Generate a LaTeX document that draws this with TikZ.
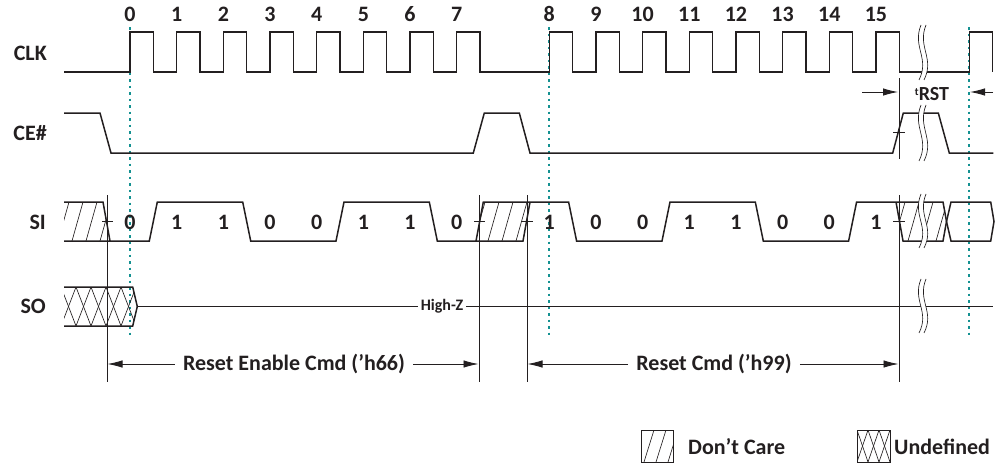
\documentclass[tikz,border=0pt]{standalone}
\usepackage{fontspec}
\setmainfont{Carlito}
\usetikzlibrary{arrows.meta}
\definecolor{teal2}{RGB}{20,145,145}
\definecolor{ink}{RGB}{35,31,32}
\newcommand\brkmark[3]{%
  \pgfmathsetmacro\bh{#3-#2}%
  \begin{scope}[shift={(#1,#2)}]
    \fill[white] (0,0) .. controls (-9,{0.4*\bh}) and (9,{0.6*\bh}) .. (-2,\bh) -- (3,\bh) .. controls (14,{0.6*\bh}) and (-4,{0.4*\bh}) .. (5,0) -- cycle;
    \draw[hat] (0,0) .. controls (-9,{0.4*\bh}) and (9,{0.6*\bh}) .. (-2,\bh);
    \draw[hat] (5,0) .. controls (-4,{0.4*\bh}) and (14,{0.6*\bh}) .. (3,\bh);
  \end{scope}}
\begin{document}
\begin{tikzpicture}[x=1pt,y=-1pt,
  sig/.style={line width=1.5pt, line join=miter, draw=ink},
  thinl/.style={line width=0.8pt, draw=ink},
  hat/.style={line width=0.65pt, draw=ink},
  dots/.style={draw=teal2, line width=1.5pt, dash pattern=on 2.5pt off 4pt},
  lbl/.style={font=\fontsize{22}{22}\selectfont\bfseries, text=ink, inner sep=0pt},
  small/.style={font=\fontsize{16}{16}\selectfont\bfseries, text=ink},
  arr/.style={line width=0.9pt, draw=ink, -{Latex[length=15pt,width=7.5pt]}}
]
\useasboundingbox (0,0) rectangle (1000,463);

% reference dotted lines
\coordinate (d0t) at (130,27);  \coordinate (d0b) at (130,335);
\coordinate (d8t) at (549,27); \coordinate (d8b) at (549,335);
\coordinate (drt) at (969,27); \coordinate (drb) at (969,335);
\draw[dots] (d0t) -- (d0b);
\draw[dots] (d8t) -- (d8b);
\draw[dots] (drt) -- (drb);

% signal names
\node[lbl, anchor=east] (clk) at (47,53) {CLK};
\node[lbl, anchor=east] (ce) at (47,133) {CE\#};
\node[lbl, anchor=east] (si) at (46,222) {SI};
\node[lbl, anchor=east] (so) at (46,306) {SO};

% clock numbers
\foreach \k in {0,...,7} \node[lbl] (n\k) at ({130+46.667*\k},14) {\k};
\foreach \k in {8,...,15} \node[lbl] (n\k) at ({549.3+46.667*(\k-8)},14) {\k};

% CLK
\draw[sig] (64,72)
  foreach \k in {0,...,7}{ -- ({130+46.667*\k},72) -- ({130+46.667*\k},32) -- ({153.3+46.667*\k},32) -- ({153.3+46.667*\k},72) }
  foreach \k in {0,...,7}{ -- ({549.3+46.667*\k},72) -- ({549.3+46.667*\k},32) -- ({572.6+46.667*\k},32) -- ({572.6+46.667*\k},72) }
  -- (969.3,72) -- (969.3,32) -- (992.3,32) -- (992.3,72);

% CE#
\draw[sig] (64,113) -- (100,113) -- (111,153) -- (473.3,153) -- (484.3,113) -- (519.3,113) -- (530,153)
  -- (892.7,153) -- (903.3,113) -- (938.3,113) -- (949.3,153) -- (993.3,153);

% SI hatched regions
\begin{scope}
  \clip (64,202) -- (103,202) -- (110,241) -- (64,241) -- cycle;
  \foreach \x in {30,44,...,120} \draw[hat] (\x,241) -- ({\x+11},202);
\end{scope}
\begin{scope}
  \clip (476,241) -- (483.3,202) -- (530,202) -- (523,241) -- cycle;
  \foreach \x in {460,474,...,540} \draw[hat] (\x,241) -- ({\x+11},202);
\end{scope}
\begin{scope}
  \clip (896,202) -- (943,202) -- (946.5,221.5) -- (943,241) -- (903,241) -- cycle;
  \foreach \x in {880,894,...,960} \draw[hat] (\x,241) -- ({\x+11},202);
\end{scope}

% SI outlines
\draw[sig] (64,202) -- (103,202) -- (110,241) -- (64,241);
\draw[sig] (110,241) -- (149.3,241) -- (157.3,202) -- (242.7,202) -- (250.7,241) -- (336,241) -- (344,202)
  -- (429.3,202) -- (437.3,241) -- (476,241) -- (483.3,202) -- (530,202) -- (568.6,202) -- (576.6,241)
  -- (662,241) -- (670,202) -- (755.3,202) -- (763.3,241) -- (848.6,241) -- (856.6,202) -- (943,202)
  -- (946.5,221.5) -- (943,241) -- (903,241) -- (896,202);
\draw[sig] (476,241) -- (523,241) -- (530,202);
\draw[sig] (946.5,221.5) -- (951,202) -- (990.7,202) -- (994,221.5) -- (990.7,241) -- (951,241) -- cycle;

% SI bits
\foreach \b [count=\i from 0] in {0,1,1,0,0,1,1,0}
  \node[lbl] (ba\i) at ({130+46.667*\i},222) {\b};
\foreach \b [count=\i from 0] in {1,0,0,1,1,0,0,1}
  \node[lbl] (bb\i) at ({549.3+46.667*\i},222) {\b};

% SO undefined region
\begin{scope}
  \clip (64,287) -- (132.7,287) -- (137.3,306.5) -- (132.7,326) -- (64,326) -- cycle;
  \foreach \a in {46,61,...,151} {
    \draw[hat] (\a,287) -- ({\a+15},326);
    \draw[hat] (\a,287) -- ({\a-15},326);
  }
\end{scope}
\draw[sig] (64,287) -- (132.7,287) -- (137.3,306.5) -- (132.7,326) -- (64,326);
\draw[sig] (137.3,306.5) -- (993,306.5);
\node[small, fill=white, inner xsep=3pt, inner ysep=1pt] (hz) at (442,306.5) {High-Z};

% vertical reference lines and ticks
\draw[thinl] (107,195) -- (107,381.7);
\draw[thinl] (479,195) -- (479,381.7);
\draw[thinl] (527,195) -- (527,381.7);
\draw[thinl] (899,195) -- (899,381.7);
\draw[thinl] (899,78) -- (899,159);
\draw[thinl] (102,221.5) -- (113,221.5);
\draw[thinl] (474,221.5) -- (485,221.5);
\draw[thinl] (521.5,221.5) -- (532.5,221.5);
\draw[thinl] (893,221.5) -- (905,221.5);
\draw[thinl] (893,132.5) -- (905,132.5);

% breaks
\brkmark{921}{25}{80}
\brkmark{921}{105}{161}
\brkmark{921}{194}{248}
\brkmark{921}{279}{333}

% tRST
\node[font=\fontsize{20}{20}\selectfont\bfseries, text=ink, inner sep=0pt] (trst) at (932,94) {\raisebox{0.55ex}{\fontsize{11}{11}\selectfont t}RST};
\coordinate (trA) at (862,92); \coordinate (trB) at (898,92);
\coordinate (trC) at (993,92); \coordinate (trD) at (970,92);
\draw[arr] (trA) -- (trB);
\draw[arr] (trC) -- (trD);

% command spans
\node[lbl, inner xsep=8pt, inner ysep=2pt] (rec) at (294,364) {Reset Enable Cmd (’h66)};
\node[lbl, inner xsep=8pt, inner ysep=2pt] (rc) at (714,364) {Reset Cmd (’h99)};
\coordinate (v1) at (107.5,364); \coordinate (v2) at (478.5,364);
\coordinate (v3) at (527.5,364); \coordinate (v4) at (898.5,364);
\draw[arr] (rec.west) -- (v1);
\draw[arr] (rec.east) -- (v2);
\draw[arr] (rc.west) -- (v3);
\draw[arr] (rc.east) -- (v4);

% legend
\begin{scope}
  \clip (641,430) rectangle (673,462);
  \foreach \x in {620,632,...,680} \draw[hat] (\x,462) -- ({\x+10},430);
\end{scope}
\draw[thinl] (641,430) rectangle (673,462);
\node[lbl, anchor=west] (ldc) at (688,447) {Don’t Care};
\begin{scope}
  \clip (857,430) rectangle (890,462);
  \foreach \a in {846,857,...,902} {
    \draw[hat] (\a,430) -- ({\a+11},462);
    \draw[hat] (\a,430) -- ({\a-11},462);
  }
\end{scope}
\draw[thinl] (857,430) rectangle (890,462);
\node[lbl, anchor=west] (lud) at (894,447) {Undefined};
\end{tikzpicture}
\end{document}
